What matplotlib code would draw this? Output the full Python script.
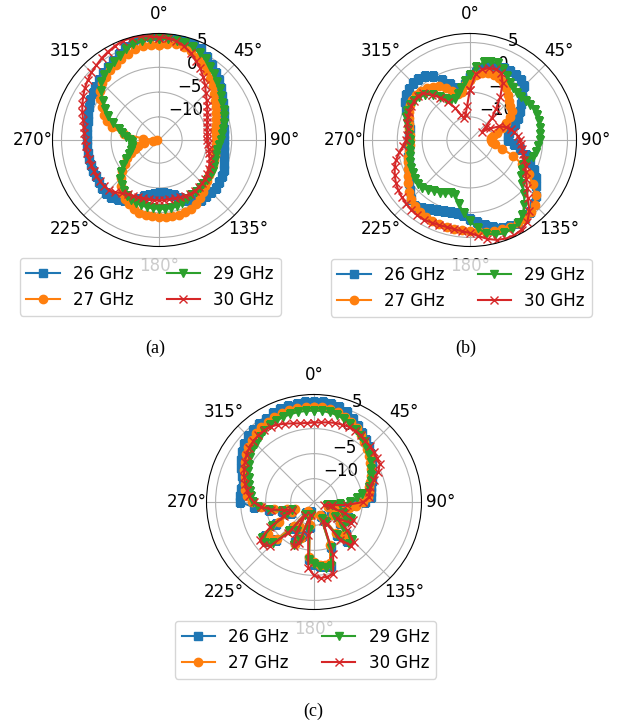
import numpy as np
import matplotlib
matplotlib.use('Agg')
import matplotlib.pyplot as plt

plt.rcParams['font.family'] = ['DejaVu Sans']
plt.rcParams['font.size'] = 12

# angle grid (deg), 5 degree step
ang_deg = np.arange(0, 360, 5)
freqs = ['26 GHz', '27 GHz', '29 GHz', '30 GHz']
markers = ['s', 'o', 'v', 'x']

# ---------------- panel (a) ----------------
a_26 = [6.4, 6.5, 6.5, 6.5, 6.2, 5.5, 4.7, 3.9, 3.1, 2.4, 1.6, 0.9,
        0.3, -0.3, -0.8, -1.2, -1.4, -1.5, -1.5, -1.5, -1.4, -1.1, -0.7, -0.3,
        0.0, 0.2, 0.3, 0.3, 0.2, 0.0, -0.6, -1.3, -2.2, -3.1, -3.7, -4.0,
        -4.0, -3.8, -3.4, -2.9, -2.0, -1.2, -0.6, -0.1, 0.3, 0.4, 0.3, 0.1,
        0.0, 0.0, 0.0, 0.0, -0.1, -0.15, -0.15, -0.1, 0.0, 0.2, 0.5, 0.9,
        1.3, 1.7, 2.1, 2.5, 2.9, 3.4, 3.8, 4.5, 5.2, 5.9, 6.2, 6.3]
a_27 = [4.6, 4.8, 4.9, 4.8, 4.4, 3.8, 3.1, 2.3, 1.4, 0.6, -0.1, -0.8,
        -1.4, -1.9, -2.4, -2.8, -3.1, -3.2, -3.2, -3.2, -3.1, -3.0, -2.9, -2.7,
        -2.6, -2.3, -1.9, -1.5, -0.9, -0.3, 0.3, 0.7, 0.9, 1.0, 1.0, 0.9,
        0.85, 0.8, 0.7, 0.6, 0.2, -0.4, -1.0, -1.7, -2.6, -3.8, -5.0, -6.2,
        -7.3, -8.4, -9.5, -10.2, -11.5, -13.5, -14.3, -11.5, -7.5, -4.8, -3.5, -2.5,
        -1.5, -0.2, 0.8, 1.5, 2.0, 2.5, 2.8, 3.4, 3.9, 4.3, 4.5, 4.6]
a_29 = [5.7, 5.7, 5.7, 5.6, 5.2, 4.7, 4.1, 3.4, 2.7, 2.0, 1.3, 0.7,
        0.1, -0.3, -0.7, -1.1, -1.5, -1.9, -2.2, -2.5, -2.7, -2.8, -2.7, -2.4,
        -2.2, -2.1, -2.0, -2.0, -1.9, -1.8, -1.8, -1.5, -1.1, -0.8, -0.7, -0.7,
        -0.8, -0.8, -0.9, -1.0, -1.2, -1.4, -1.6, -2.2, -2.9, -3.6, -4.6, -5.9,
        -7.0, -7.9, -8.6, -9.0, -9.2, -9.2, -8.8, -8.0, -7.1, -6.3, -4.8, -3.4,
        -2.2, -0.8, 0.6, 1.8, 2.5, 3.0, 3.4, 4.1, 4.8, 5.3, 5.6, 5.7]
a_30 = [6.0, 6.0, 5.6, 4.9, 4.0, 3.0, 2.0, 0.9, -0.2, -1.3, -2.1, -2.8,
        -3.4, -3.9, -4.3, -4.6, -4.8, -4.9, -4.9, -4.8, -4.5, -4.2, -3.8, -3.4,
        -3.1, -2.8, -2.5, -2.3, -2.2, -2.1, -2.1, -2.2, -2.4, -2.5, -2.5, -2.5,
        -2.5, -2.5, -2.5, -2.5, -2.4, -2.3, -2.1, -1.6, -0.9, -0.4, -0.2, -0.15,
        -0.1, -0.1, -0.1, 0.0, 0.1, 0.2, 0.3, 0.5, 0.8, 1.2, 1.8, 2.4,
        3.0, 3.6, 4.1, 4.6, 5.0, 5.5, 5.9, 6.3, 6.6, 6.7, 6.6, 6.3]

# ---------------- panel (b) ----------------
b_26 = [-2.0, -0.8, 0.1, 0.7, 1.1, 1.4, 1.5, 1.4, 1.2, 0.6, -0.9, -2.0,
        -3.0, -4.0, -5.0, -6.0, -6.6, -6.9, -6.9, -5.8, -4.5, -3.0, -1.8, -0.4,
        0.6, 1.6, 2.8, 3.7, 4.3, 4.6, 4.6, 4.5, 4.2, 3.6, 2.8, 2.0,
        1.2, 0.6, 0.3, 0.4, 0.6, 0.9, 1.5, 2.2, 2.6, 2.2, 1.1, 0.3,
        -0.4, -1.0, -1.5, -1.8, -2.1, -2.3, -2.4, -2.4, -2.3, -2.0, -1.3, -0.4,
        0.5, 1.0, 1.3, 1.5, 1.5, 1.2, 0.2, -1.2, -2.6, -3.8, -4.0, -3.3]
b_27 = [-2.5, -1.6, -1.0, -0.7, -0.7, -0.9, -1.2, -1.9, -2.7, -3.5, -4.0, -4.4,
        -5.4, -6.6, -7.8, -9.0, -10.0, -10.5, -10.5, -10.2, -9.6, -8.0, -5.5, -3.0,
        -1.0, 0.8, 2.6, 3.8, 4.4, 4.7, 4.7, 4.6, 4.5, 4.4, 4.1, 3.8,
        3.6, 3.5, 3.5, 3.5, 3.4, 3.3, 3.2, 3.0, 2.7, 2.3, 1.5, 0.6,
        -0.2, -0.9, -1.4, -1.8, -2.2, -2.5, -2.6, -2.5, -2.2, -2.0, -1.6, -1.1,
        -0.7, -0.5, -0.5, -0.7, -1.1, -1.6, -2.1, -3.0, -4.2, -5.1, -4.8, -3.6]
b_29 = [-1.5, 0.2, 1.3, 1.7, 1.8, 1.2, 0.2, -0.6, -1.1, -1.3, -1.2, -0.9,
        -0.6, -0.3, -0.2, -0.2, -0.3, -0.4, -0.6, -0.8, -1.1, -1.6, -2.4, -2.9,
        -2.6, -2.0, -1.0, 0.8, 2.4, 3.8, 4.7, 5.2, 5.4, 5.1, 4.5, 3.2,
        1.6, 0.1, -1.6, -3.1, -3.2, -2.8, -2.4, -2.1, -1.5, -1.0, -0.9, -1.1,
        -1.3, -1.5, -1.8, -2.1, -2.4, -2.5, -2.5, -2.3, -2.0, -1.6, -1.0, -0.7,
        -0.7, -0.9, -1.2, -1.8, -2.9, -4.0, -5.0, -5.8, -5.8, -5.0, -4.0, -2.8]
b_30 = [-4.5, -1.3, -0.2, 0.4, 0.5, 0.3, -1.5, -4.0, -6.5, -8.5, -10.5, -11.8,
        -10.0, -8.2, -7.0, -6.2, -5.6, -5.0, -4.6, -4.3, -4.0, -3.6, -3.0, -2.3,
        -1.7, -0.8, 0.3, 1.8, 4.0, 5.5, 6.2, 6.5, 6.5, 6.2, 5.6, 4.8,
        4.1, 3.8, 3.6, 3.5, 3.6, 3.7, 3.9, 3.9, 3.7, 3.5, 3.3, 3.0,
        2.6, 2.1, 1.5, 0.8, -0.2, -1.1, -1.8, -2.0, -1.9, -1.6, -1.3, -1.1,
        -1.0, -0.9, -0.9, -1.2, -2.8, -4.2, -5.8, -7.5, -9.2, -10.0, -9.5, -7.8]

# ---------------- panel (c) ----------------
c_26 = [5.25, 5.3, 5.2, 4.9, 4.4, 3.7, 2.9, 2.2, 1.5, 0.9, 0.2, -0.5,
        -1.2, -1.8, -2.4, -2.9, -3.1, -3.3, -4.5, -7.0, -8.5, -10.5, -9.0, -7.0,
        -7.5, -10.5, -8.0, -5.5, -4.5, -6.5, -10.5, -11.5, -5.0, -1.5, -1.6, -1.8,
        -2.3, -3.2, -9.5, -12.5, -7.5, -5.8, -8.5, -12.0, -8.0, -3.8, -2.5, -2.8,
        -6.0, -9.5, -10.0, -8.0, -5.5, -2.6, 0.1, 0.2, 0.1, 0.1, 0.6, 1.4,
        2.2, 2.9, 3.5, 3.9, 4.2, 4.4, 4.6, 4.9, 5.1, 5.25, 5.3, 5.3]
c_27 = [4.3, 4.4, 4.3, 4.0, 3.5, 3.0, 2.4, 1.7, 1.0, 0.3, -0.4, -1.0,
        -1.6, -2.2, -2.7, -3.2, -3.6, -3.8, -4.8, -6.2, -7.6, -10.0, -11.6, -8.5,
        -7.5, -10.0, -8.0, -5.8, -5.2, -7.0, -11.0, -11.8, -5.5, -2.0, -1.9, -2.0,
        -2.6, -3.6, -10.0, -12.0, -7.0, -5.5, -9.0, -12.5, -8.5, -4.2, -3.2, -3.4,
        -6.5, -9.8, -10.6, -9.0, -6.6, -4.0, -2.2, -1.2, -0.6, -0.4, 0.1, 0.7,
        1.3, 1.9, 2.5, 3.0, 3.4, 3.7, 3.9, 4.1, 4.3, 4.4, 4.4, 4.4]
c_29 = [3.6, 3.6, 3.5, 3.3, 2.9, 2.5, 2.0, 1.5, 1.0, 0.4, -0.2, -0.8,
        -1.4, -2.0, -2.6, -3.2, -5.0, -6.0, -7.5, -9.5, -11.0, -12.0, -8.5, -6.5,
        -7.0, -9.5, -7.0, -4.0, -3.8, -6.5, -10.0, -11.0, -4.8, -1.4, -1.3, -1.6,
        -2.2, -3.0, -9.0, -12.0, -6.5, -5.2, -8.0, -11.5, -7.0, -3.0, -1.8, -2.0,
        -5.0, -8.5, -10.0, -8.0, -5.5, -3.5, -2.5, -2.0, -1.6, -1.3, -0.8, -0.2,
        0.3, 0.9, 1.4, 1.8, 2.2, 2.6, 3.0, 3.2, 3.4, 3.5, 3.6, 3.6]
c_30 = [1.2, 1.3, 1.5, 1.7, 1.8, 1.9, 1.8, 1.6, 1.3, 1.1, 0.9, 0.7,
        0.5, -0.5, -2.0, -3.0, -3.4, -3.6, -4.8, -8.0, -11.0, -12.5, -8.0, -6.0,
        -6.2, -9.0, -6.0, -3.4, -3.3, -5.5, -9.5, -10.5, -3.5, 0.2, 0.5, 0.6,
        0.0, -1.5, -8.0, -12.0, -6.0, -5.0, -7.5, -11.5, -6.5, -2.2, -1.3, -1.5,
        -4.5, -8.0, -10.0, -8.5, -6.0, -4.0, -2.6, -1.7, -1.0, -0.4, 0.2, 0.8,
        1.3, 1.8, 2.2, 2.5, 2.7, 2.8, 2.7, 2.4, 2.0, 1.6, 1.3, 1.2]

panels = [
    ('(a)', [a_26, a_27, a_29, a_30]),
    ('(b)', [b_26, b_27, b_29, b_30]),
    ('(c)', [c_26, c_27, c_29, c_30]),
]

W, H = 625, 725
fig = plt.figure(figsize=(W / 100, H / 100), dpi=100)

# pixel layout: polar centre (x, y), radius; legend centre x / top y; caption
layout = [
    dict(cx=159, cy=140, r=106.5, lx=150, ly=258, tx=155, ty=348),
    dict(cx=470, cy=140, r=106.5, lx=461, ly=259, tx=466, ty=348),
    dict(cx=314, cy=502, r=107.5, lx=305.5, ly=621, tx=313, ty=711),
]

theta = np.deg2rad(np.append(ang_deg, 360))

for (cap, series), L in zip(panels, layout):
    ax = fig.add_axes([(L['cx'] - L['r']) / W, (H - L['cy'] - L['r']) / H,
                       2 * L['r'] / W, 2 * L['r'] / H], projection='polar')
    ax.set_theta_zero_location('N')
    ax.set_theta_direction(-1)
    for vals, lab, mk in zip(series, freqs, markers):
        v = np.append(vals, vals[0])
        ax.plot(theta, v, marker=mk, label=lab)
    ax.set_ylim(-14.66, 6.82)
    ax.set_rticks([-10, -5, 0, 5])
    ax.legend(ncol=2, loc='upper center',
              bbox_to_anchor=(L['lx'] / W, 1 - L['ly'] / H),
              bbox_transform=fig.transFigure, borderaxespad=0)
    fig.text(L['tx'] / W, 1 - L['ty'] / H, cap, ha='center', va='center',
             family='Liberation Serif', fontsize=13)

fig.savefig('out.png', dpi=100)
